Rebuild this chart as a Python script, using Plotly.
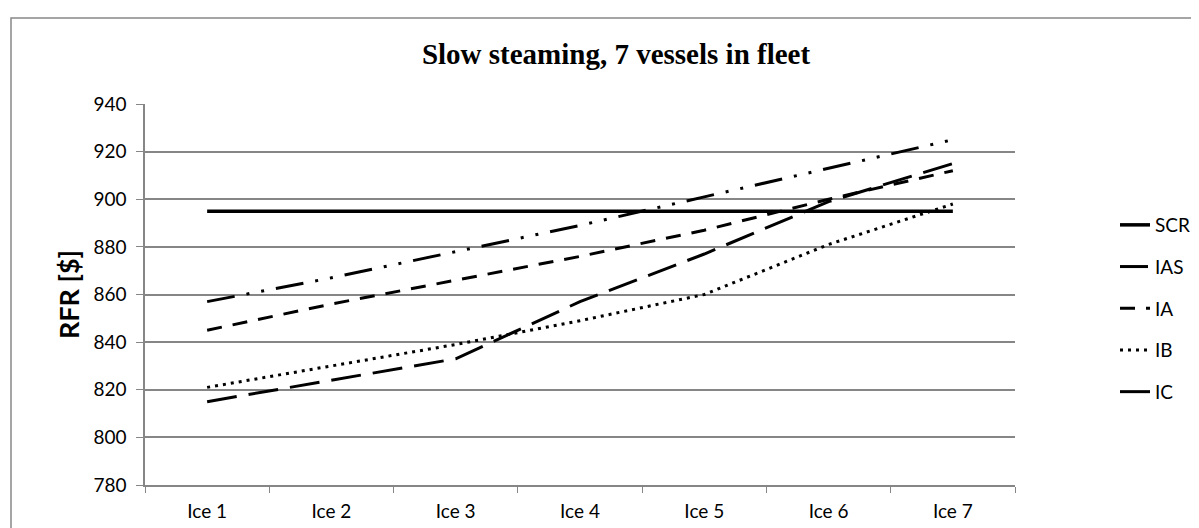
import plotly.graph_objects as go

categories = ['Ice 1', 'Ice 2', 'Ice 3', 'Ice 4', 'Ice 5', 'Ice 6', 'Ice 7']
scr = [895, 895, 895, 895, 895, 895, 895]
ias = [857, 867, 878, 889, 901, 913, 925]
ia = [845, 856, 866, 876, 887, 900, 912]
ib = [821, 830, 839, 849, 860, 881, 898]
ic = [815, 824, 833, 857, 877, 899, 915]

series = [
    ('SCR', scr, 'solid', 3.5),
    ('IAS', ias, '28px,12px,3px,12px,3px,12px', 3),
    ('IA', ia, '15px,11px', 3),
    ('IB', ib, '3px,5px', 3),
    ('IC', ic, '30px,12px', 3),
]

fig = go.Figure()
for name, values, dash, width in series:
    fig.add_trace(go.Scatter(x=categories, y=values, mode='lines', name=name,
                             legendgroup=name,
                             line=dict(color='black', width=width, dash=dash)))

fig.update_layout(
    width=1199, height=528,
    margin=dict(l=137, r=192, t=96, b=51),
    plot_bgcolor='white', paper_bgcolor='white',
    font=dict(family='Lato', size=19, color='black'),
    title=dict(text='<b>Slow steaming, 7 vessels in fleet</b>',
               font=dict(family='Liberation Serif', size=29, color='black'),
               xref='container', x=608 / 1199, xanchor='center',
               yref='container', y=1 - 46 / 528, yanchor='middle'),
    showlegend=True,
    legend=dict(x=(1107 - 137) / 870, xanchor='left', y=(477 - 198) / 381, yanchor='top',
                tracegroupgap=14, font=dict(family='Lato', size=19),
                bgcolor='rgba(0,0,0,0)'),
    shapes=[dict(type='rect', xref='paper', yref='paper',
                 x0=(3 - 137) / 870, x1=(1230 - 137) / 870,
                 y0=(477 - 540) / 381, y1=(477 - 10) / 381,
                 line=dict(color='#888888', width=1.5), layer='below')],
)
fig.update_xaxes(
    type='category', range=[-0.5, 6.5], showgrid=False,
    showline=True, linecolor='#868686', linewidth=1.5,
    ticks='outside', tickson='boundaries', ticklen=6, tickcolor='#868686',
    ticklabelstandoff=8,
    tickfont=dict(family='Lato', size=19, color='black'),
)
fig.update_yaxes(
    range=[780, 940], dtick=20, showgrid=True, gridcolor='#868686', gridwidth=1.5,
    showline=True, linecolor='#868686', linewidth=1.5,
    ticks='outside', ticklen=7, tickcolor='#868686',
    ticklabelstandoff=6,
    tickfont=dict(family='Lato', size=19, color='black'),
    title=dict(text='<b>RFR [$]</b>', font=dict(family='Lato', size=27, color='black'),
               standoff=6),
    zeroline=False,
)

fig.write_html('out.html')
